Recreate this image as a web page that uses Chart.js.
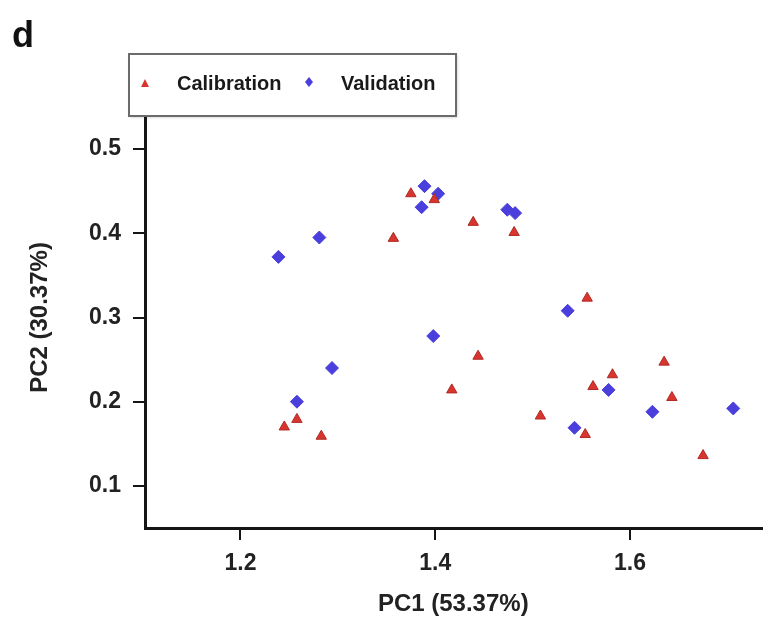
<!DOCTYPE html>
<html>
<head>
<meta charset="utf-8">
<script src="https://cdn.jsdelivr.net/npm/chart.js@4/dist/chart.umd.min.js"></script>
<style>
    body { margin: 0; background: #fff; }
    #wrap { position: relative; width: 769px; height: 619px; }
</style>
</head>
<body>
<div id="wrap">
    <canvas id="pcaChart" width="769" height="619"></canvas>
</div>
<script>
// values
const calibrationX = [1.375, 1.399, 1.357, 1.439, 1.481, 1.556, 1.444, 1.417, 1.508, 1.554, 1.562, 1.582, 1.635, 1.643, 1.675, 1.245, 1.258, 1.283];
const calibrationY = [0.447, 0.440, 0.394, 0.413, 0.401, 0.323, 0.254, 0.214, 0.183, 0.161, 0.218, 0.232, 0.247, 0.205, 0.136, 0.170, 0.179, 0.159];
const validationX = [1.239, 1.281, 1.389, 1.403, 1.386, 1.474, 1.482, 1.398, 1.536, 1.294, 1.258, 1.578, 1.623, 1.706, 1.543];
const validationY = [0.372, 0.395, 0.456, 0.447, 0.431, 0.428, 0.424, 0.278, 0.308, 0.240, 0.200, 0.214, 0.188, 0.192, 0.169];
const xTicks = [1.2, 1.4, 1.6];
const yTicks = [0.1, 0.2, 0.3, 0.4, 0.5];
const seriesNames = ["Calibration", "Validation"];

const RED = "#d7352e";
const BLUE = "#4a3fdc";
const AXIS = "#151515";

function toPoints(xs, ys) {
    return xs.map((x, i) => ({ x: x, y: ys[i] }));
}

// panel letter + boxed legend, drawn on the canvas
const panelLegendPlugin = {
    id: "panelLegend",
    afterDraw(chart) {
        const ctx = chart.ctx;
        ctx.save();

        ctx.fillStyle = "#111";
        ctx.font = "bold 36px 'Liberation Sans', Arial, sans-serif";
        ctx.textAlign = "left";
        ctx.textBaseline = "alphabetic";
        ctx.fillText("d", 12, 47);

        // box with soft shadow
        ctx.shadowColor = "rgba(0,0,0,0.25)";
        ctx.shadowBlur = 3;
        ctx.shadowOffsetX = 1;
        ctx.shadowOffsetY = 1;
        ctx.fillStyle = "#fff";
        ctx.fillRect(129, 54, 327, 62);
        ctx.shadowColor = "transparent";
        ctx.strokeStyle = "#6b6b6b";
        ctx.lineWidth = 2;
        ctx.strokeRect(129, 54, 327, 62);

        // triangle marker
        ctx.fillStyle = RED;
        ctx.beginPath();
        ctx.moveTo(145, 79);
        ctx.lineTo(149, 87);
        ctx.lineTo(141, 87);
        ctx.closePath();
        ctx.fill();

        // diamond marker
        ctx.fillStyle = BLUE;
        ctx.beginPath();
        ctx.moveTo(309, 77);
        ctx.lineTo(313, 82);
        ctx.lineTo(309, 87);
        ctx.lineTo(305, 82);
        ctx.closePath();
        ctx.fill();

        ctx.fillStyle = "#1a1a1a";
        ctx.font = "bold 20px 'Liberation Sans', Arial, sans-serif";
        ctx.textBaseline = "middle";
        ctx.fillText(seriesNames[0], 177, 84);
        ctx.fillText(seriesNames[1], 341, 84);

        ctx.restore();
    }
};

const tickFont = { family: "'Liberation Sans', Arial, sans-serif", size: 23, weight: "bold" };
const titleFont = { family: "'Liberation Sans', Arial, sans-serif", size: 24, weight: "bold" };

new Chart(document.getElementById("pcaChart"), {
    type: "scatter",
    data: {
        datasets: [
            {
                label: seriesNames[0],
                data: toPoints(calibrationX, calibrationY),
                pointStyle: "triangle",
                pointRadius: 6,
                backgroundColor: RED,
                borderColor: "#b02a25",
                borderWidth: 1
            },
            {
                label: seriesNames[1],
                data: toPoints(validationX, validationY),
                pointStyle: "rectRot",
                pointRadius: 6.5,
                backgroundColor: BLUE,
                borderColor: BLUE,
                borderWidth: 1
            }
        ]
    },
    options: {
        responsive: false,
        devicePixelRatio: 1,
        animation: false,
        layout: {
            padding: { top: 107, right: 0, bottom: 0, left: 0 }
        },
        plugins: {
            legend: { display: false },
            tooltip: { enabled: false }
        },
        scales: {
            x: {
                type: "linear",
                min: 1.102,
                max: 1.735,
                afterFit(scale) { scale.height = 91; },
                afterBuildTicks(scale) { scale.ticks = xTicks.map(v => ({ value: v })); },
                border: { color: AXIS, width: 3 },
                grid: {
                    drawOnChartArea: false,
                    drawTicks: true,
                    tickLength: 12,
                    tickColor: AXIS,
                    lineWidth: 2
                },
                ticks: {
                    color: "#222",
                    font: tickFont,
                    padding: 10,
                    callback: v => v.toFixed(1)
                },
                title: {
                    display: true,
                    text: "PC1 (53.37%)",
                    color: "#222",
                    font: titleFont,
                    padding: { top: 0, bottom: 0 }
                }
            },
            y: {
                type: "linear",
                min: 0.05,
                max: 0.55,
                afterFit(scale) { scale.width = 145; },
                afterBuildTicks(scale) { scale.ticks = yTicks.map(v => ({ value: v })); },
                border: { color: AXIS, width: 3 },
                grid: {
                    drawOnChartArea: false,
                    drawTicks: true,
                    tickLength: 12,
                    tickColor: AXIS,
                    lineWidth: 2
                },
                ticks: {
                    color: "#222",
                    font: tickFont,
                    padding: 12,
                    callback: v => v.toFixed(1)
                },
                title: {
                    display: true,
                    text: "PC2 (30.37%)",
                    color: "#222",
                    font: titleFont,
                    padding: { top: 26, bottom: 0 }
                }
            }
        }
    },
    plugins: [panelLegendPlugin]
});
</script>
</body>
</html>
